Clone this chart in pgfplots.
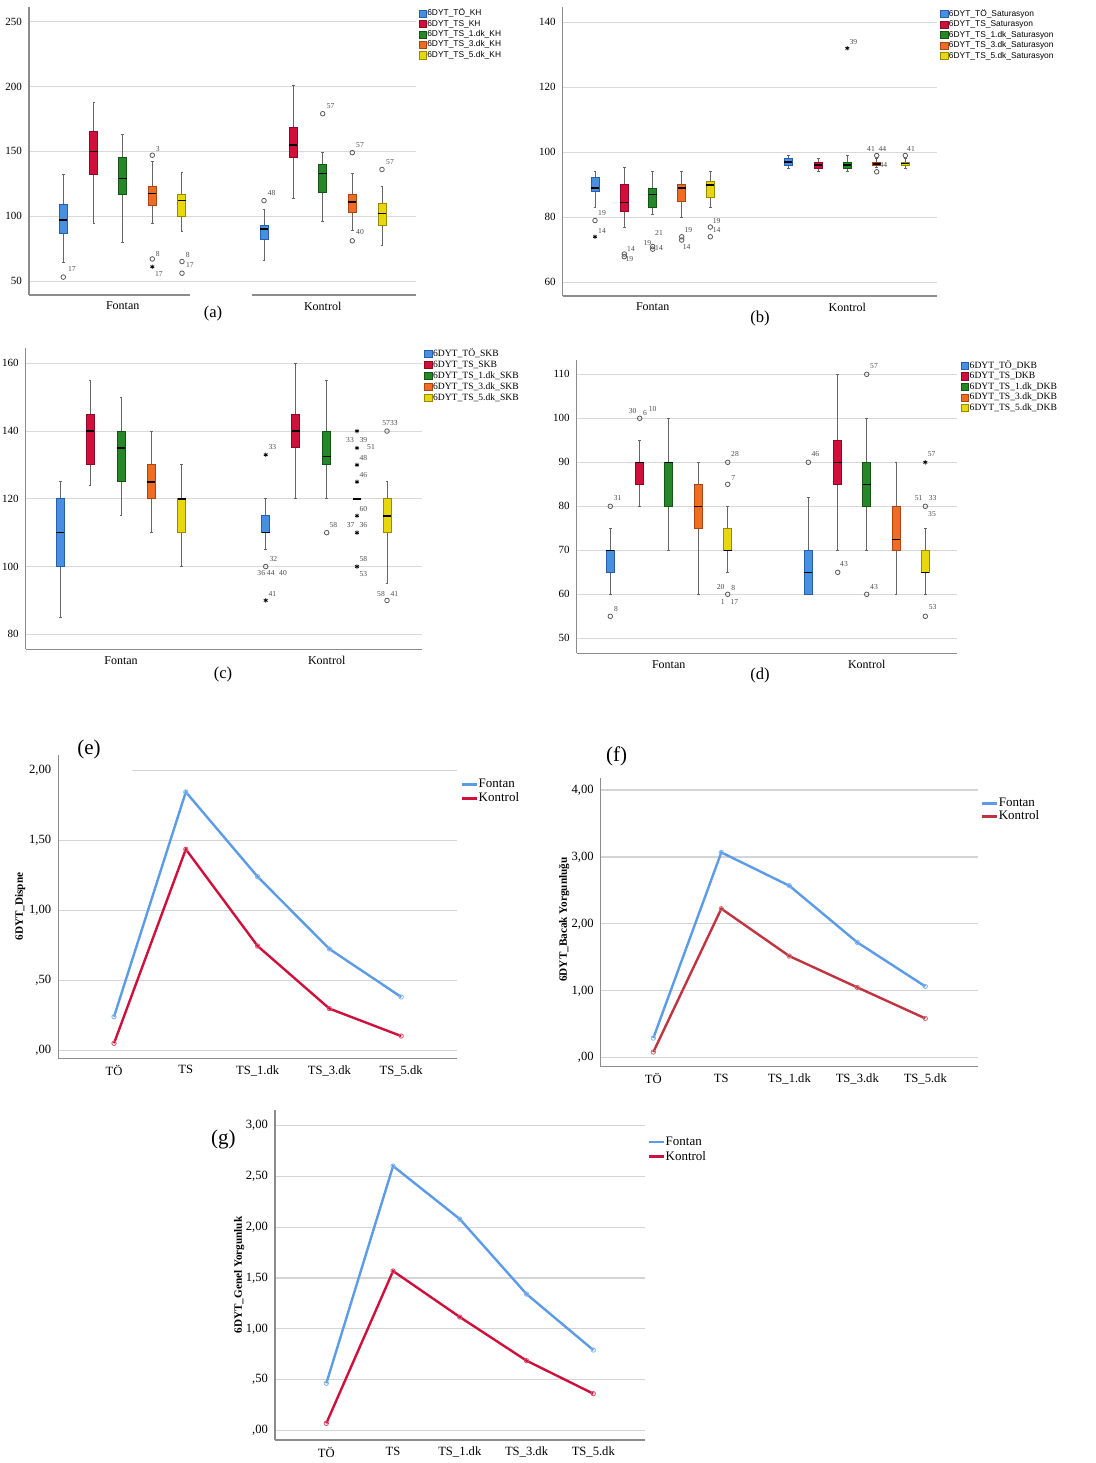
\documentclass[border=0pt]{standalone}
\usepackage{fontspec}
\setmainfont{Liberation Serif}
\newfontfamily\legsans{Liberation Sans}
\usepackage{pgfplots}
\pgfplotsset{compat=1.18}
\usepgfplotslibrary{statistics}
\definecolor{cblue}{RGB}{72,142,225}
\definecolor{cblueD}{RGB}{40,95,170}
\definecolor{cred}{RGB}{208,16,58}
\definecolor{credD}{RGB}{140,10,40}
\definecolor{cgreen}{RGB}{38,135,40}
\definecolor{cgreenD}{RGB}{20,85,20}
\definecolor{corange}{RGB}{240,108,34}
\definecolor{corangeD}{RGB}{170,70,20}
\definecolor{cyellow}{RGB}{232,215,12}
\definecolor{cyellowD}{RGB}{150,140,0}
\definecolor{lblue}{RGB}{91,155,232}
\definecolor{lred}{RGB}{208,16,60}
\definecolor{lredf}{RGB}{192,52,64}
\newcommand\bx[7]{\addplot[forget plot, draw=#2D, boxplot/every box/.style={draw=#2D, fill=#2, line width=0.5pt}, boxplot prepared={draw direction=y, draw position=#1, lower whisker=#3, lower quartile=#4, median=#5, upper quartile=#6, upper whisker=#7}] coordinates {};}
\tikzset{lab/.style={font=\fontsize{3.8pt}{4pt}\selectfont, text=black!70, inner sep=0pt}}
\pgfplotsset{
 boxax/.style={scale only axis, clip=false, axis x line*=bottom, axis y line*=left,
   axis line style={-, black!45, line width=0.6pt}, tick style={draw=none}, major tick length=0pt,
   ymajorgrids, grid style={black!15, line width=0.5pt},
   yticklabel style={font=\fontsize{5.5pt}{6pt}\selectfont},
   xticklabel style={font=\fontsize{6pt}{7pt}\selectfont},
   xticklabels={Fontan,Kontrol},
   /pgf/number format/assume math mode=true,
   legend cell align=left,
   legend image code/.code={\draw[##1, line width=0.4pt] (0pt,-1.8pt) rectangle (3.6pt,1.8pt);},
   legend style={draw=none, fill=none, anchor=north west, inner sep=0pt, row sep=0pt},
   boxplot/draw direction=y,
   boxplot/box extend=8, boxplot/whisker extend=2.6,
   boxplot/every whisker/.style={draw=black!60, line width=0.5pt},
   boxplot/every median/.style={draw=black, line width=0.8pt}},
 oc/.style={forget plot, only marks, mark=o, mark size=1.15pt, mark options={draw=black!65, line width=0.4pt}},
 os/.style={forget plot, only marks, mark=asterisk, mark size=1.1pt, mark options={draw=black, line width=0.4pt}},
 lineax/.style={scale only axis, clip=false, axis x line*=bottom, axis y line*=left,
   axis line style={-, black!45, line width=0.6pt}, tick style={draw=none}, major tick length=0pt,
   ymajorgrids, grid style={black!17, line width=0.6pt},
   xtick={0,...,4}, xticklabels={TÖ,TS,TS\_1.dk,TS\_3.dk,TS\_5.dk},
   ticklabel style={font=\fontsize{6.3pt}{7pt}\selectfont},
   legend cell align=left,
   legend image code/.code={\draw[##1, line width=1.3pt] (0pt,0pt) -- (7.5pt,0pt);},
   every axis y label/.style={at={(axis description cs:-0.096,0.5)}, rotate=90, anchor=center, font=\bfseries\fontsize{5.6pt}{6pt}\selectfont},
   legend style={draw=none, fill=none, anchor=north west, font=\fontsize{6.5pt}{7pt}\selectfont, inner sep=0pt, row sep=0pt, nodes={inner sep=0.4pt, text height=4.7pt, text depth=1.5pt}}},
 fl/.style={lblue, line width=1.2pt, mark=o, mark size=1.1pt, mark options={line width=0.4pt, draw=lblue!75!white}},
 kl/.style={#1, line width=1.2pt, mark=o, mark size=1.1pt, mark options={line width=0.4pt, draw=#1!75!white}},
}
\begin{document}
\begin{tikzpicture}
\path[use as bounding box] (0pt,0pt) rectangle (548pt,-731.5pt);
% ---------------- (a)
\begin{axis}[boxax, at={(14.5pt,-147.5pt)}, anchor=south west, width=193.5pt, height=144pt,
  xmin=29, xmax=416, ymin=39.2, ymax=261.3, ytick={50,100,150,200,250},
  xtick={122.7,322.7}, x axis line style={draw=none},
  legend style={at={(axis description cs:1.006,0.996)}, font=\legsans\fontsize{4.2pt}{5pt}\selectfont,
    nodes={inner sep=0.3pt, text height=3.3pt, text depth=1.3pt}}]
\addlegendimage{draw=cblueD, fill=cblue}\addlegendentry{6DYT\_TÖ\_KH}
\addlegendimage{draw=credD, fill=cred}\addlegendentry{6DYT\_TS\_KH}
\addlegendimage{draw=cgreenD, fill=cgreen}\addlegendentry{6DYT\_TS\_1.dk\_KH}
\addlegendimage{draw=corangeD, fill=corange}\addlegendentry{6DYT\_TS\_3.dk\_KH}
\addlegendimage{draw=cyellowD, fill=cyellow}\addlegendentry{6DYT\_TS\_5.dk\_KH}
\bx{63.3}{cblue}{64}{87}{97}{109}{132}
\bx{94}{cred}{94}{132}{150}{165}{188}
\bx{122.7}{cgreen}{80}{117}{129}{145}{163}
\bx{152.3}{corange}{94}{108}{117.5}{123}{142}
\bx{182}{cyellow}{88}{100}{112}{117}{134}
\bx{264}{cblue}{66}{82}{90}{93}{105}
\bx{293.3}{cred}{114}{145}{155}{168}{201}
\bx{322.7}{cgreen}{96}{118}{133}{140}{149}
\bx{352.3}{corange}{89}{103}{111}{117}{133}
\bx{382}{cyellow}{77}{93}{102}{110}{123}
\addplot[oc] coordinates {(63.3,53) (152.3,147) (152.3,67) (182,65) (182,56) (264,112) (322.7,179) (352.3,149) (352.3,81) (382,136)};
\addplot[os] coordinates {(152.3,61)};
\node[lab] at (axis cs:72,59) {17};
\node[lab] at (axis cs:157.7,152) {3};
\node[lab] at (axis cs:157.7,71) {8};
\node[lab] at (axis cs:159,55.6) {17};
\node[lab] at (axis cs:187.7,70) {8};
\node[lab] at (axis cs:190,62) {17};
\node[lab] at (axis cs:271.7,118.2) {48};
\node[lab] at (axis cs:330.7,185) {57};
\node[lab] at (axis cs:360,155) {57};
\node[lab] at (axis cs:360,87.4) {40};
\node[lab] at (axis cs:390,141.8) {57};
\draw[black!45, line width=0.6pt] (axis cs:29,39.2) -- (axis cs:190,39.2);
\draw[black!45, line width=0.6pt] (axis cs:252,39.2) -- (axis cs:416,39.2);
\end{axis}
% ---------------- (b)
\begin{axis}[boxax, at={(281.35pt,-148pt)}, anchor=south west, width=187.15pt, height=144.5pt,
  xmin=562.7, xmax=937, ymin=55.78, ymax=144.7, ytick={60,80,100,120,140},
  xtick={652.7,847.3},
  legend style={at={(axis description cs:1.008,0.995)}, font=\legsans\fontsize{4.2pt}{5pt}\selectfont,
    nodes={inner sep=0.3pt, text height=3.3pt, text depth=1.35pt}}]
\addlegendimage{draw=cblueD, fill=cblue}\addlegendentry{6DYT\_TÖ\_Saturasyon}
\addlegendimage{draw=credD, fill=cred}\addlegendentry{6DYT\_TS\_Saturasyon}
\addlegendimage{draw=cgreenD, fill=cgreen}\addlegendentry{6DYT\_TS\_1.dk\_Saturasyon}
\addlegendimage{draw=corangeD, fill=corange}\addlegendentry{6DYT\_TS\_3.dk\_Saturasyon}
\addlegendimage{draw=cyellowD, fill=cyellow}\addlegendentry{6DYT\_TS\_5.dk\_Saturasyon}
\bx{595}{cblue}{83}{87.9}{89}{92.1}{94.2}
\bx{624.3}{cred}{76.8}{81.8}{84.6}{90}{95.2}
\bx{652.7}{cgreen}{81}{83}{87}{89}{94}
\bx{681.7}{corange}{80}{85}{89}{90}{94}
\bx{710.3}{cyellow}{83}{86}{90}{91}{94}
\bx{788.3}{cblue}{95}{96}{97}{98}{99}
\bx{818.3}{cred}{94}{95}{96}{97}{98}
\bx{847.3}{cgreen}{94}{95}{96}{97}{99}
\bx{876.7}{corange}{95.4}{96}{96.4}{97}{98}
\bx{905.3}{cyellow}{95}{96}{96.5}{97}{98}
\addplot[oc] coordinates {(595,79) (624.3,68.7) (624.3,67.9) (652.7,71) (652.7,70.2) (681.7,74) (681.7,73) (710.3,77) (710.3,74) (876.7,99) (876.7,94) (905.3,99)};
\addplot[os] coordinates {(595,74) (847.3,132)};
\node[lab] at (axis cs:602,81.2) {19};
\node[lab] at (axis cs:602,75.9) {14};
\node[lab] at (axis cs:631,70.2) {14};
\node[lab] at (axis cs:629.3,67.1) {19};
\node[lab] at (axis cs:659,75.1) {21};
\node[lab] at (axis cs:647.3,72) {19};
\node[lab] at (axis cs:659,70.6) {14};
\node[lab] at (axis cs:688.3,76.1) {19};
\node[lab] at (axis cs:686.7,71) {14};
\node[lab] at (axis cs:716.7,79) {19};
\node[lab] at (axis cs:716.7,76.1) {14};
\node[lab] at (axis cs:853.3,134) {39};
\node[lab] at (axis cs:871,101.1) {41};
\node[lab] at (axis cs:882.3,101.1) {44};
\node[lab] at (axis cs:883.3,96.1) {44};
\node[lab] at (axis cs:911,101.1) {41};
\end{axis}
% ---------------- (c)
\begin{axis}[boxax, at={(12.85pt,-324.65pt)}, anchor=south west, width=198pt, height=150.65pt,
  xmin=25.7, xmax=421.7, ymin=75.57, ymax=164.52, ytick={80,100,120,140,160},
  xtick={121,326.7},
  legend style={at={(axis description cs:1.006,1.0)}, font=\fontsize{4.8pt}{5.5pt}\selectfont,
    nodes={inner sep=0.3pt, text height=3.6pt, text depth=1.3pt}}]
\addlegendimage{draw=cblueD, fill=cblue}\addlegendentry{6DYT\_TÖ\_SKB}
\addlegendimage{draw=credD, fill=cred}\addlegendentry{6DYT\_TS\_SKB}
\addlegendimage{draw=cgreenD, fill=cgreen}\addlegendentry{6DYT\_TS\_1.dk\_SKB}
\addlegendimage{draw=corangeD, fill=corange}\addlegendentry{6DYT\_TS\_3.dk\_SKB}
\addlegendimage{draw=cyellowD, fill=cyellow}\addlegendentry{6DYT\_TS\_5.dk\_SKB}
\bx{60.3}{cblue}{85}{100}{110}{120}{125}
\bx{90}{cred}{124}{130}{140}{145}{155}
\bx{121}{cgreen}{115}{125}{135}{140}{150}
\bx{151.3}{corange}{110}{120}{125}{130}{140}
\bx{181.7}{cyellow}{100}{110}{120}{120}{130}
\bx{265.7}{cblue}{105}{110}{110}{115}{120}
\bx{295.7}{cred}{120}{135}{140}{145}{160}
\bx{326.7}{cgreen}{120}{130}{132.5}{140}{155}
\bx{357}{corange}{120}{120}{120}{120}{120}
\bx{387}{cyellow}{95}{110}{115}{120}{125}
\addplot[oc] coordinates {(265.7,100) (326.7,110) (387,140) (387,90)};
\addplot[os] coordinates {(265.7,133) (265.7,90) (357,140) (357,135) (357,130) (357,125) (357,115) (357,110) (357,100)};
\node[lab] at (axis cs:272.3,135.2) {33};
\node[lab] at (axis cs:273.3,102.2) {32};
\node[lab] at (axis cs:266,98) {36 44};
\node[lab] at (axis cs:283,98) {40};
\node[lab] at (axis cs:272.3,91.8) {41};
\node[lab] at (axis cs:333.3,112.4) {58};
\node[lab] at (axis cs:350,137.3) {33};
\node[lab] at (axis cs:363.3,137.3) {39};
\node[lab] at (axis cs:371,135.2) {51};
\node[lab] at (axis cs:363.3,132.1) {48};
\node[lab] at (axis cs:363.3,127) {46};
\node[lab] at (axis cs:363.3,117.1) {60};
\node[lab] at (axis cs:350.7,112.4) {37};
\node[lab] at (axis cs:363.3,112.4) {36};
\node[lab] at (axis cs:363.3,102.2) {58};
\node[lab] at (axis cs:363.3,97.9) {53};
\node[lab] at (axis cs:390,142.3) {5733};
\node[lab] at (axis cs:381,92) {58};
\node[lab] at (axis cs:394.3,92) {41};
\end{axis}
% ---------------- (d)
\begin{axis}[boxax, at={(288.35pt,-326.65pt)}, anchor=south west, width=190.3pt, height=146.65pt,
  xmin=576.7, xmax=957.3, ymin=46.59, ymax=113.25, ytick={50,60,...,110},
  xtick={668.7,866.7},
  legend style={at={(axis description cs:1.009,1.0)}, font=\fontsize{4.8pt}{5.5pt}\selectfont,
    nodes={inner sep=0.3pt, text height=3.5pt, text depth=1.2pt}}]
\addlegendimage{draw=cblueD, fill=cblue}\addlegendentry{6DYT\_TÖ\_DKB}
\addlegendimage{draw=credD, fill=cred}\addlegendentry{6DYT\_TS\_DKB}
\addlegendimage{draw=cgreenD, fill=cgreen}\addlegendentry{6DYT\_TS\_1.dk\_DKB}
\addlegendimage{draw=corangeD, fill=corange}\addlegendentry{6DYT\_TS\_3.dk\_DKB}
\addlegendimage{draw=cyellowD, fill=cyellow}\addlegendentry{6DYT\_TS\_5.dk\_DKB}
\bx{610.3}{cblue}{60}{65}{70}{70}{75}
\bx{639.7}{cred}{80}{85}{90}{90}{95}
\bx{668.7}{cgreen}{70}{80}{90}{90}{100}
\bx{698.3}{corange}{60}{75}{80}{85}{90}
\bx{727.7}{cyellow}{65}{70}{70}{75}{80}
\bx{808.3}{cblue}{60}{60}{65}{70}{82}
\bx{837.7}{cred}{70}{85}{90}{95}{110}
\bx{866.7}{cgreen}{70}{80}{85}{90}{100}
\bx{896}{corange}{60}{70}{72.5}{80}{90}
\bx{925.3}{cyellow}{60}{65}{65}{70}{75}
\addplot[oc] coordinates {(610.3,80) (610.3,55) (639.7,100) (727.7,90) (727.7,85) (727.7,60) (808.3,90) (837.7,65) (866.7,110) (866.7,60) (925.3,80) (925.3,55)};
\addplot[os] coordinates {(925.3,90)};
\node[lab] at (axis cs:617.7,81.8) {31};
\node[lab] at (axis cs:616,56.7) {8};
\node[lab] at (axis cs:632.7,101.7) {30};
\node[lab] at (axis cs:645,101.3) {6};
\node[lab] at (axis cs:652.7,102) {10};
\node[lab] at (axis cs:735,91.8) {28};
\node[lab] at (axis cs:733.3,86.5) {7};
\node[lab] at (axis cs:720.7,61.7) {20};
\node[lab] at (axis cs:733.3,61.4) {8};
\node[lab] at (axis cs:722.7,58.2) {1};
\node[lab] at (axis cs:734.3,58.2) {17};
\node[lab] at (axis cs:815.3,91.8) {46};
\node[lab] at (axis cs:874,111.9) {57};
\node[lab] at (axis cs:844,66.8) {43};
\node[lab] at (axis cs:874,61.7) {43};
\node[lab] at (axis cs:931.7,91.8) {57};
\node[lab] at (axis cs:918.7,81.8) {51};
\node[lab] at (axis cs:932.7,81.8) {33};
\node[lab] at (axis cs:932,78.2) {35};
\node[lab] at (axis cs:932.7,57) {53};
\end{axis}
% ---------------- (e)
\begin{axis}[lineax, at={(29.15pt,-529.15pt)}, anchor=south west, width=199.2pt, height=151.65pt,
  xmin=-0.776, xmax=4.773, ymin=-0.057, ymax=2.109,
  ytick={0,0.5,1,1.5,2}, yticklabels={{,00},{,50},{1,00},{1,50},{2,00}},
  ylabel={6DYT\_Dispne},
  legend style={at={(axis description cs:1.008,0.927)}}]
\addplot[fl] coordinates {(0,0.24) (1,1.845) (2,1.24) (3,0.724) (4,0.381)};
\addlegendentry{Fontan}
\addplot[kl=lred] coordinates {(0,0.05) (1,1.436) (2,0.745) (3,0.298) (4,0.102)};
\addlegendentry{Kontrol}
\end{axis}
\fill[white] (29.7pt,-383.8pt) rectangle (65.8pt,-386.5pt);
% ---------------- (f)
\begin{axis}[lineax, at={(300.35pt,-533.35pt)}, anchor=south west, width=188.5pt, height=144.2pt,
  xmin=-0.774, xmax=4.771, ymin=-0.134, ymax=4.175,
  ytick={0,1,2,3,4}, yticklabels={{,00},{1,00},{2,00},{3,00},{4,00}},
  ylabel={6DYT\_Bacak Yorgunluğu},
  every axis y label/.append style={at={(axis description cs:-0.097,0.51)}},
  legend style={at={(axis description cs:1.006,0.937)}, nodes={text height=4.5pt, text depth=1.3pt}}]
\addplot[fl] coordinates {(0,0.294) (1,3.068) (2,2.57) (3,1.724) (4,1.066)};
\addlegendentry{Fontan}
\addplot[kl=lredf] coordinates {(0,0.085) (1,2.227) (2,1.519) (3,1.051) (4,0.588)};
\addlegendentry{Kontrol}
\end{axis}
% ---------------- (g)
\begin{axis}[lineax, at={(137.5pt,-720pt)}, anchor=south west, width=185pt, height=165pt,
  xmin=-0.769, xmax=4.775, ymin=-0.0955, ymax=3.155,
  ytick={0,0.5,1,1.5,2,2.5,3}, yticklabels={{,00},{,50},{1,00},{1,50},{2,00},{2,50},{3,00}},
  ylabel={6DYT\_Genel Yorgunluk},
  every axis y label/.append style={at={(axis description cs:-0.097,0.5)}},
  legend style={at={(axis description cs:1.005,0.927)}, nodes={text height=5pt, text depth=1.6pt}}]
\addplot[fl] coordinates {(0,0.463) (1,2.603) (2,2.081) (3,1.342) (4,0.791)};
\addlegendentry{Fontan}
\addplot[kl=lred] coordinates {(0,0.069) (1,1.569) (2,1.116) (3,0.686) (4,0.361)};
\addlegendentry{Kontrol}
\end{axis}
% panel letters
\node[font=\fontsize{8.3pt}{9pt}\selectfont] at (106.5pt,-156.5pt) {(a)};
\node[font=\fontsize{8.3pt}{9pt}\selectfont] at (380pt,-159pt) {(b)};
\node[font=\fontsize{8.3pt}{9pt}\selectfont] at (111.5pt,-337pt) {(c)};
\node[font=\fontsize{8.3pt}{9pt}\selectfont] at (380pt,-337.5pt) {(d)};
\node[font=\fontsize{10.5pt}{11pt}\selectfont] at (44.5pt,-374.5pt) {(e)};
\node[font=\fontsize{10.5pt}{11pt}\selectfont] at (308.3pt,-378.3pt) {(f)};
\node[font=\fontsize{10.5pt}{11pt}\selectfont] at (111.7pt,-569.7pt) {(g)};
\end{tikzpicture}
\end{document}
